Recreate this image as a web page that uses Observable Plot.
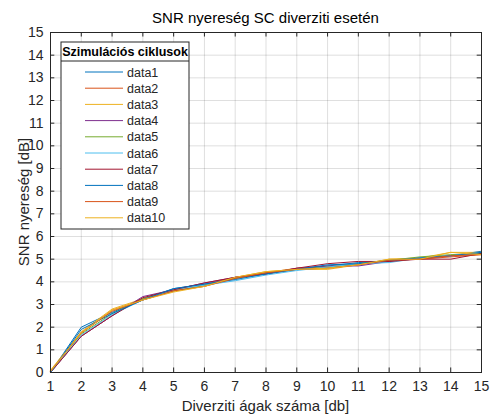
<!DOCTYPE html>
<html>
<head>
<meta charset="utf-8">
<script src="https://cdn.jsdelivr.net/npm/d3@7"></script>
<script src="https://cdn.jsdelivr.net/npm/@observablehq/plot@0.6"></script>
<style>
  html, body { margin: 0; padding: 0; background: #fff; }
  #chart { position: relative; width: 490px; height: 414px; }
  svg { font-family: "Liberation Sans", Arial, Helvetica, sans-serif; }
</style>
</head>
<body>
<div id="chart"></div>
<script>
// Number of diversity branches
const branches = [1, 2, 3, 4, 5, 6, 7, 8, 9, 10, 11, 12, 13, 14, 15];

// SNR gain [dB] for each simulation run
const data1  = [0.00, 2.00, 2.65, 3.25, 3.70, 3.90, 4.15, 4.35, 4.55, 4.70, 4.85, 4.90, 5.05, 5.15, 5.35];
const data2  = [0.05, 1.75, 2.75, 3.20, 3.60, 3.85, 4.20, 4.40, 4.60, 4.65, 4.75, 4.95, 5.00, 5.10, 5.20];
const data3  = [0.10, 1.80, 2.80, 3.25, 3.60, 3.80, 4.20, 4.45, 4.55, 4.55, 4.75, 5.00, 5.05, 5.30, 5.30];
const data4  = [0.00, 1.60, 2.50, 3.35, 3.65, 3.95, 4.20, 4.35, 4.60, 4.70, 4.70, 4.90, 5.05, 5.15, 5.25];
const data5  = [0.05, 1.70, 2.60, 3.25, 3.60, 3.85, 4.15, 4.40, 4.55, 4.65, 4.80, 4.95, 5.10, 5.20, 5.25];
const data6  = [0.00, 1.65, 2.55, 3.20, 3.65, 3.85, 4.05, 4.30, 4.50, 4.65, 4.80, 4.85, 5.05, 5.15, 5.30];
const data7  = [0.00, 1.60, 2.50, 3.30, 3.65, 3.95, 4.20, 4.35, 4.60, 4.80, 4.90, 4.90, 5.00, 5.00, 5.25];
const data8  = [0.00, 1.90, 2.60, 3.20, 3.70, 3.90, 4.10, 4.35, 4.55, 4.75, 4.80, 4.95, 5.05, 5.15, 5.30];
const data9  = [0.05, 1.75, 2.70, 3.20, 3.60, 3.80, 4.15, 4.40, 4.55, 4.60, 4.75, 4.95, 5.00, 5.15, 5.20];
const data10 = [0.05, 1.75, 2.75, 3.20, 3.55, 3.80, 4.20, 4.45, 4.55, 4.60, 4.75, 5.00, 5.00, 5.30, 5.20];

const seriesNames = ["data1", "data2", "data3", "data4", "data5", "data6", "data7", "data8", "data9", "data10"];
const seriesValues = [data1, data2, data3, data4, data5, data6, data7, data8, data9, data10];
const seriesColors = ["#0072BD", "#D95319", "#EDB120", "#7E2F8E", "#77AC30", "#4DBEEE", "#A2142F", "#0072BD", "#D95319", "#EDB120"];

const xTicks = branches;
const yTicks = d3.range(0, 16);

const titleText = "SNR nyereség SC diverziti esetén";
const xLabel = "Diverziti ágak száma [db]";
const yLabel = "SNR nyereség [dB]";
const legendTitle = "Szimulációs ciklusok";

// Long-format table for the line mark
const rows = [];
seriesNames.forEach((name, i) => {
  branches.forEach((b, j) => rows.push({series: name, branches: b, gain: seriesValues[i][j]}));
});

const axisColor = "#262626";
const fontStack = "'Liberation Sans', Arial, Helvetica, sans-serif";
const M = {left: 50, right: 9, top: 32, bottom: 42};
const W = 490, H = 414;

const chart = Plot.plot({
  width: W,
  height: H,
  marginLeft: M.left,
  marginRight: M.right,
  marginTop: M.top,
  marginBottom: M.bottom,
  style: {fontFamily: fontStack, fontSize: "14px", color: axisColor, background: "#fff"},
  x: {domain: [1, 15]},
  y: {domain: [0, 15]},
  color: {domain: seriesNames, range: seriesColors},
  marks: [
    Plot.gridX(xTicks, {stroke: axisColor, strokeOpacity: 0.15}),
    Plot.gridY(yTicks, {stroke: axisColor, strokeOpacity: 0.15}),
    Plot.line(rows, {x: "branches", y: "gain", z: "series", stroke: "series", strokeWidth: 1}),
    // inward tick marks on all four sides of the box
    Plot.ruleX(xTicks, {x: d => d, y1: 0, y2: 0.2, stroke: axisColor}),
    Plot.ruleX(xTicks, {x: d => d, y1: 15, y2: 14.8, stroke: axisColor}),
    Plot.ruleY(yTicks, {y: d => d, x1: 1, x2: 1.14, stroke: axisColor}),
    Plot.ruleY(yTicks, {y: d => d, x1: 15, x2: 14.86, stroke: axisColor}),
    Plot.axisX(xTicks, {tickSize: 0, tickPadding: 9, fontSize: 14, label: null}),
    Plot.axisY(yTicks, {tickSize: 0, tickPadding: 7, fontSize: 14, label: null}),
    Plot.frame({stroke: axisColor})
  ]
});

document.getElementById("chart").appendChild(chart);

// Title, axis labels and legend drawn into the plot's SVG
const svg = d3.select(chart);
const plotCx = (M.left + W - M.right) / 2;
const plotCy = (M.top + H - M.bottom) / 2;

svg.append("text")
  .attr("x", plotCx).attr("y", 23)
  .attr("text-anchor", "middle")
  .attr("font-family", fontStack).attr("font-size", 15).attr("fill", "#000")
  .text(titleText);

svg.append("text")
  .attr("x", plotCx).attr("y", 411)
  .attr("text-anchor", "middle")
  .attr("font-family", fontStack).attr("font-size", 15).attr("fill", axisColor)
  .text(xLabel);

svg.append("text")
  .attr("transform", `translate(29,${plotCy}) rotate(-90)`)
  .attr("text-anchor", "middle")
  .attr("font-family", fontStack).attr("font-size", 15).attr("fill", axisColor)
  .text(yLabel);

const lg = svg.append("g").attr("transform", "translate(61,42)");
const lgW = 128, rowH = 16.2, headH = 19;
lg.append("rect")
  .attr("width", lgW).attr("height", headH + 6 + rowH * seriesNames.length)
  .attr("fill", "#fff").attr("stroke", axisColor).attr("stroke-width", 1);
lg.append("line")
  .attr("x1", 0).attr("x2", lgW).attr("y1", headH).attr("y2", headH)
  .attr("stroke", axisColor).attr("stroke-width", 1);
lg.append("text")
  .attr("x", lgW / 2).attr("y", 14).attr("text-anchor", "middle")
  .attr("font-family", fontStack).attr("font-size", 12.5).attr("font-weight", "bold").attr("fill", "#000")
  .text(legendTitle);
seriesNames.forEach((name, i) => {
  const y = headH + 11 + i * rowH;
  lg.append("line").attr("x1", 24).attr("x2", 62).attr("y1", y).attr("y2", y)
    .attr("stroke", seriesColors[i]).attr("stroke-width", 1);
  lg.append("text").attr("x", 66).attr("y", y + 4.5)
    .attr("text-anchor", "start")
    .attr("font-family", fontStack).attr("font-size", 12.5).attr("fill", axisColor).text(name);
});
</script>
</body>
</html>
